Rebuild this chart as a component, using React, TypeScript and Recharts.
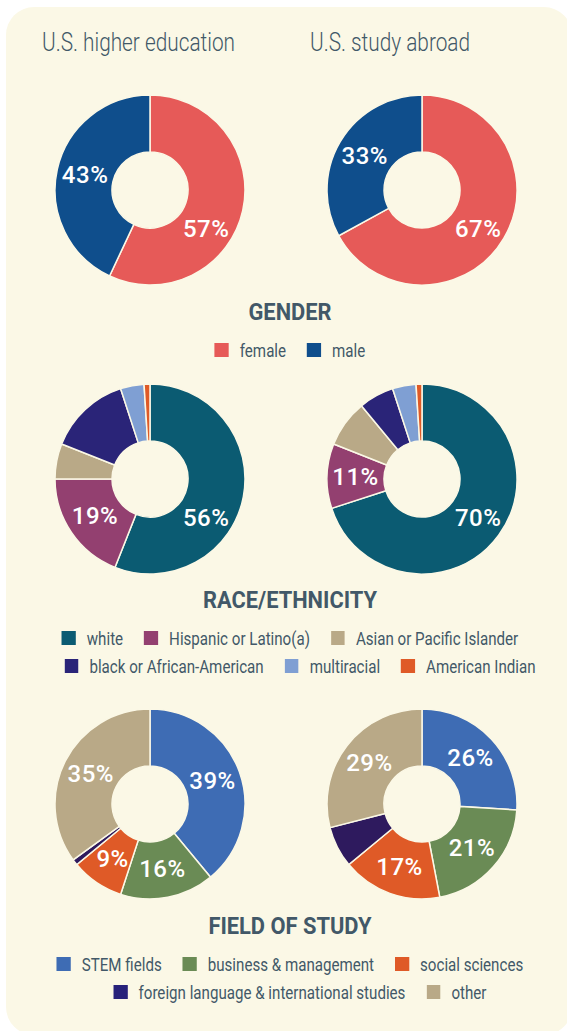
import { PieChart, Pie, Cell } from 'recharts';

// gender (female, male)
const genderNames = ['female', 'male'];
const genderColors = ['#e65a58', '#0f4e8c'];
const genderHigherEd = [57, 43];
const genderAbroad = [67, 33];
const genderHigherEdShown = [true, true];
const genderAbroadShown = [true, true];

// race / ethnicity
const raceNames = [
  'white',
  'Hispanic or Latino(a)',
  'Asian or Pacific Islander',
  'black or African-American',
  'multiracial',
  'American Indian'
];
const raceColors = ['#0b5b72', '#934070', '#b9a987', '#2a2478', '#7f9fd3', '#df5a27'];
const raceHigherEd = [56, 19, 6, 14, 4, 1];
const raceAbroad = [70, 11, 8, 6, 4, 1];
const raceHigherEdShown = [true, true, false, false, false, false];
const raceAbroadShown = [true, true, false, false, false, false];

// field of study
const fieldNames = [
  'STEM fields',
  'business & management',
  'social sciences',
  'foreign language & international studies',
  'other'
];
const fieldColors = ['#3e6cb4', '#6a8b55', '#df5a27', '#2e1a5e', '#b9a987'];
const fieldLegendColors = ['#3e6cb4', '#6a8b55', '#df5a27', '#27217a', '#b9a987'];
const fieldHigherEd = [39, 16, 9, 1, 35];
const fieldAbroad = [26, 21, 17, 7, 29];
const fieldHigherEdShown = [true, true, true, false, true];
const fieldAbroadShown = [true, true, true, false, true];

const columnTitles = ['U.S. higher education', 'U.S. study abroad'];

const BG = '#fbf8e6';
const INK = '#425868';
const FONT = 'Roboto, sans-serif';
const RADIAN = Math.PI / 180;
// no condensed face is installed, so text is squeezed horizontally
const LEGEND_SQUEEZE = 0.84;
const TITLE_SQUEEZE = 0.8;
const HEAD_SQUEEZE = 0.91;

const makeLabel = (values: number[], shown: boolean[]) => (props: any) => {
  const { cx, cy, midAngle, innerRadius, outerRadius, percent, index } = props;
  if (!shown[index]) return null;
  // slices over half the ring carry their label low on the right
  const angle = percent > 0.5 ? -35 : midAngle;
  const r = (innerRadius + outerRadius) / 2 + (percent > 0.5 ? 2 : 0);
  const x = cx + r * Math.cos(-angle * RADIAN);
  const y = cy + r * Math.sin(-angle * RADIAN);
  return (
    <text
      x={x}
      y={y}
      fill="#ffffff"
      textAnchor="middle"
      dominantBaseline="central"
      style={{ fontFamily: FONT, fontSize: 24, fontWeight: 500, letterSpacing: 0.5 }}
    >
      {`${values[index]}%`}
    </text>
  );
};

function Donut({ names, values, colors, shown }: { names: string[]; values: number[]; colors: string[]; shown: boolean[] }) {
  const data = names.map((name, i) => ({ name, value: values[i] }));
  return (
    <PieChart width={200} height={200} margin={{ top: 0, right: 0, bottom: 0, left: 0 }}>
      <Pie
        data={data}
        dataKey="value"
        cx={100}
        cy={100}
        innerRadius={38}
        outerRadius={95}
        startAngle={90}
        endAngle={-270}
        stroke={BG}
        strokeWidth={1.5}
        label={makeLabel(values, shown)}
        labelLine={false}
        isAnimationActive={false}
      >
        {data.map((entry, i) => (
          <Cell key={`cell-${entry.name}`} fill={colors[i]} />
        ))}
      </Pie>
    </PieChart>
  );
}

function PieRow({ top, children }: { top: number; children: React.ReactNode }) {
  return (
    <div style={{ position: 'absolute', top, left: 50, width: 472, height: 200, display: 'flex', gap: 72 }}>
      {children}
    </div>
  );
}

function SectionTitle({ top, text }: { top: number; text: string }) {
  return (
    <div
      style={{
        position: 'absolute',
        top,
        left: 0,
        width: 580,
        height: 30,
        lineHeight: '30px',
        textAlign: 'center',
        fontFamily: FONT,
        fontWeight: 700,
        fontSize: 24,
        color: INK,
        transform: `scaleX(${HEAD_SQUEEZE})`,
        transformOrigin: '290px 50%'
      }}
    >
      {text}
    </div>
  );
}

function LegendRow({ top, names, colors, offset = 0 }: { top: number; names: string[]; colors: string[]; offset?: number }) {
  const k = LEGEND_SQUEEZE;
  return (
    <div
      style={{
        position: 'absolute',
        top,
        left: offset,
        width: 580,
        height: 24,
        display: 'flex',
        justifyContent: 'center',
        alignItems: 'center',
        gap: 21 / k,
        fontFamily: FONT,
        fontSize: 18,
        color: INK,
        transform: `scaleX(${k})`,
        transformOrigin: '290px 50%'
      }}
    >
      {names.map((name, i) => (
        <div key={name} style={{ display: 'flex', alignItems: 'center', whiteSpace: 'nowrap' }}>
          <span style={{ width: 14 / k, height: 14, background: colors[i], marginRight: 11 / k, display: 'inline-block' }} />
          <span>{name}</span>
        </div>
      ))}
    </div>
  );
}

export default function App() {
  return (
    <div style={{ position: 'absolute', left: 0, top: 0, width: 567, height: 1031, background: '#ffffff', overflow: 'hidden' }}>
      <div
        style={{
          position: 'absolute',
          left: 6,
          top: 7,
          width: 566,
          height: 1028,
          background: BG,
          borderRadius: 28
        }}
      />
      {columnTitles.map((t, i) => (
        <div
          key={t}
          style={{
            position: 'absolute',
            top: 27,
            left: i === 0 ? 42 : 310,
            height: 30,
            lineHeight: '30px',
            fontFamily: FONT,
            fontWeight: 300,
            fontSize: 26,
            color: INK,
            whiteSpace: 'nowrap',
            transform: `scaleX(${TITLE_SQUEEZE})`,
            transformOrigin: '0 50%'
          }}
        >
          {t}
        </div>
      ))}

      <PieRow top={90}>
        <Donut names={genderNames} values={genderHigherEd} colors={genderColors} shown={genderHigherEdShown} />
        <Donut names={genderNames} values={genderAbroad} colors={genderColors} shown={genderAbroadShown} />
      </PieRow>
      <SectionTitle top={297} text="GENDER" />
      <LegendRow top={338} names={genderNames} colors={genderColors} />

      <PieRow top={379}>
        <Donut names={raceNames} values={raceHigherEd} colors={raceColors} shown={raceHigherEdShown} />
        <Donut names={raceNames} values={raceAbroad} colors={raceColors} shown={raceAbroadShown} />
      </PieRow>
      <SectionTitle top={585} text="RACE/ETHNICITY" />
      <LegendRow top={626} names={raceNames.slice(0, 3)} colors={raceColors.slice(0, 3)} />
      <LegendRow top={654} names={raceNames.slice(3)} colors={raceColors.slice(3)} offset={10} />

      <PieRow top={704}>
        <Donut names={fieldNames} values={fieldHigherEd} colors={fieldColors} shown={fieldHigherEdShown} />
        <Donut names={fieldNames} values={fieldAbroad} colors={fieldColors} shown={fieldAbroadShown} />
      </PieRow>
      <SectionTitle top={911} text="FIELD OF STUDY" />
      <LegendRow top={952} names={fieldNames.slice(0, 3)} colors={fieldLegendColors.slice(0, 3)} />
      <LegendRow top={980} names={fieldNames.slice(3)} colors={fieldLegendColors.slice(3)} offset={10} />
    </div>
  );
}
